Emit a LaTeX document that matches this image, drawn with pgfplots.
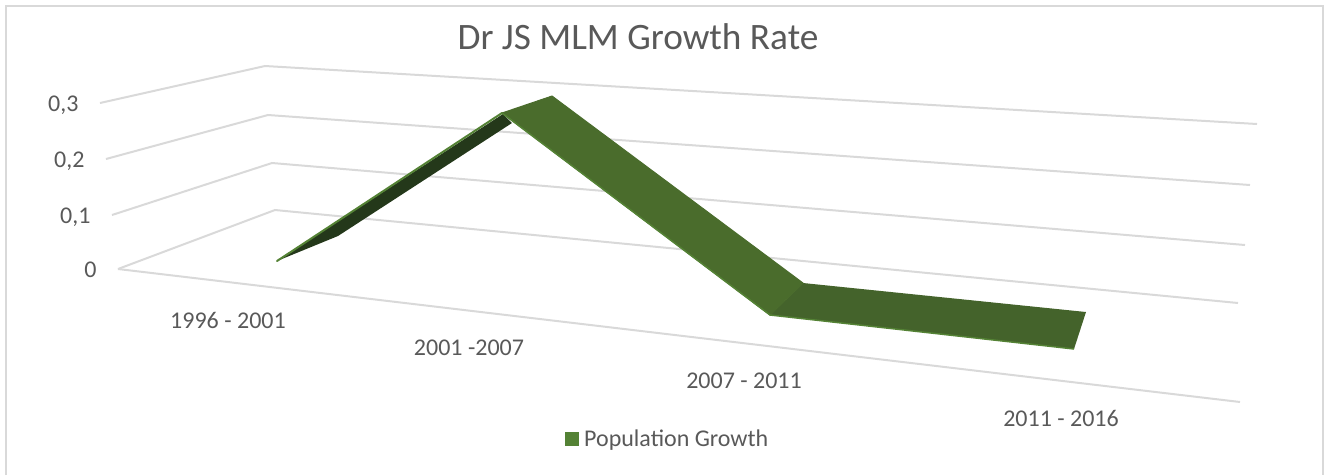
\documentclass[border=0pt]{standalone}
\usepackage{pgfplots}
\pgfplotsset{compat=1.18}
\usepackage{fontspec}
\setmainfont{Carlito}
\definecolor{gridc}{HTML}{D9D9D9}
\definecolor{framec}{HTML}{D9D9D9}
\definecolor{textc}{HTML}{595959}
\definecolor{edgec}{HTML}{548235}
\definecolor{facea}{HTML}{4A6C2C}
\definecolor{faceb}{HTML}{44632B}
\definecolor{facec}{HTML}{24381A}
\begin{document}
\begin{tikzpicture}[x=1pt,y=1pt]
\path[use as bounding box] (0pt,0pt) rectangle (1325pt,475pt);
\begin{axis}[
    at={(0pt,0pt)}, anchor=south west,
    scale only axis,
    width=1325pt, height=475pt,
    xmin=0, xmax=1325, ymin=0, ymax=475,
    y dir=reverse,
    hide axis,
    clip=false,
    legend style={at={(axis cs:565,439)}, anchor=west, draw=none, fill=none,
        font=\fontsize{24}{27}\selectfont, text=textc, inner xsep=0pt, inner ysep=0pt,
        legend cell align=left},
    legend image code/.code={\fill[edgec] (0pt,-7pt) rectangle (14pt,7pt); \path (0pt,0pt) -- (17pt,0pt);},
    every axis plot/.append style={forget plot},
]
% chart frame
\addplot[framec, line width=2pt] coordinates {(6,475) (6,6) (1323,6) (1323,475)};
% gridlines: value levels 0.3, 0.2, 0.1, 0
\addplot[gridc, line width=2pt] coordinates {(100,103) (265,66) (1257,124)};
\addplot[gridc, line width=2pt] coordinates {(106,159) (268,115) (1250,185)};
\addplot[gridc, line width=2pt] coordinates {(112,215) (272,163) (1245,245)};
\addplot[gridc, line width=2pt] coordinates {(118,269) (275,210) (1238,303)};
\addplot[gridc, line width=2pt] coordinates {(118,269) (1240,402)};
% ribbon, first segment underside
\addplot[fill=facec, draw=none] coordinates {(277,261) (338,236) (512,123) (503,114) (277,261)};
\addplot[edgec, line width=2pt, line cap=round] coordinates {(277,261) (502,113)};
% ribbon, second and third segments
\addplot[fill=faceb, draw=none] coordinates {(803,283) (1086,312) (1074,349) (770,315) (803,283)};
\addplot[fill=facea, draw=facea, line width=1pt, line join=round] coordinates {(502,113) (552,96) (803,283) (770,315) (502,113)};
\addplot[edgec, line width=1.5pt, line join=round] coordinates {(502,113) (770,315) (1074,349)};
% legend entry
\addplot[forget plot=false, draw=none] coordinates {(565,439)};
\addlegendentry{Population Growth}
% title
\node[text=textc, font=\fontsize{37.3}{42}\selectfont] at (axis cs:638,37) {Dr JS MLM Growth Rate};
% value labels
\begin{scope}[every node/.style={text=textc, font=\fontsize{24}{27}\selectfont, anchor=east}]
\node at (axis cs:82,105) {0,3};
\node at (axis cs:88,161) {0,2};
\node at (axis cs:94,217) {0,1};
\node at (axis cs:100,270) {0};
\end{scope}
% category labels
\begin{scope}[every node/.style={text=textc, font=\fontsize{24}{27}\selectfont}]
\node at (axis cs:228,320) {1996 - 2001};
\node at (axis cs:469,348) {2001 -2007};
\node at (axis cs:744,381) {2007 - 2011};
\node at (axis cs:1061,418) {2011 - 2016};
\end{scope}
\end{axis}
\end{tikzpicture}
\end{document}
